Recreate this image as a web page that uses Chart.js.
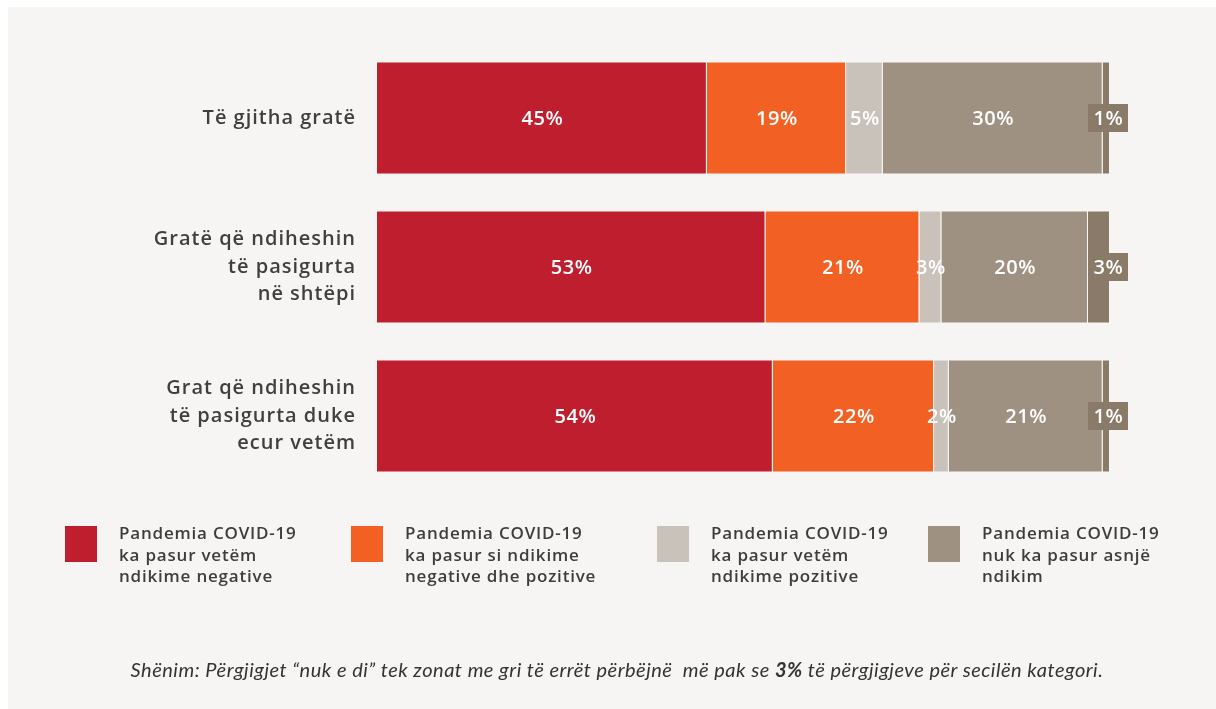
<!DOCTYPE html>
<html>
<head>
<meta charset="utf-8">
<script src="https://cdn.jsdelivr.net/npm/chart.js@4.4.1/dist/chart.umd.min.js"></script>
<style>
  html, body { margin: 0; padding: 0; background: #fff; }
  #panel { position: absolute; left: 8px; top: 7px; width: 1208px; height: 702px; background: #f6f5f3; }
  #wrap { position: absolute; left: 0; top: 0; width: 1216px; height: 709px; }
  .leg { position: absolute; top: 522px; font-family: "Open Sans", sans-serif; font-weight: 600; font-size: 17px; letter-spacing: 0.8px; line-height: 21.5px; color: #3d3d3d; }
  .leg .box { position: absolute; left: 0; top: 4px; width: 32px; height: 36px; }
  .leg .txt { position: absolute; left: 54px; top: 0; white-space: nowrap; }
  #note { position: absolute; left: 0; width: 1234px; top: 657px; text-align: center; font-family: "Lato", sans-serif; font-style: italic; font-size: 20px; letter-spacing: 0.5px; color: #333; white-space: nowrap; }
</style>
</head>
<body>
<div id="panel"></div>
<div id="wrap"><canvas id="chart" width="1216" height="709"></canvas></div>
<div id="legend"></div>
<div id="note">Shënim: Përgjigjet “nuk e di” tek zonat me gri të errët përbëjnë&nbsp; më pak se <b>3%</b> të përgjigjeve për secilën kategori.</div>
<script>
const categories = [
  ['Të gjitha gratë'],
  ['Gratë që ndiheshin', 'të pasigurta', 'në shtëpi'],
  ['Grat që ndiheshin', 'të pasigurta duke', 'ecur vetëm']
];
const seriesNames = [
  ['Pandemia COVID-19', 'ka pasur vetëm', 'ndikime negative'],
  ['Pandemia COVID-19', 'ka pasur si ndikime', 'negative dhe pozitive'],
  ['Pandemia COVID-19', 'ka pasur vetëm', 'ndikime pozitive'],
  ['Pandemia COVID-19', 'nuk ka pasur asnjë', 'ndikim'],
  ['Nuk e di']
];
const colors = ['#be1e2d', '#f26123', '#c9c2bb', '#9e9182', '#8a7a68'];
const negativeOnly = [45, 53, 54];
const mixedImpact = [19, 21, 22];
const positiveOnly = [5, 3, 2];
const noImpact = [30, 20, 21];
const dontKnow = [1, 3, 1];
const legendX = [65, 351, 657, 928];

const seriesValues = [negativeOnly, mixedImpact, positiveOnly, noImpact, dontKnow];

// legend (first four series only)
const legendEl = document.getElementById('legend');
for (let i = 0; i < 4; i++) {
  const d = document.createElement('div');
  d.className = 'leg';
  d.style.left = legendX[i] + 'px';
  d.innerHTML = '<div class="box" style="background:' + colors[i] + '"></div><div class="txt">' + seriesNames[i].join('<br>') + '</div>';
  legendEl.appendChild(d);
}

const spacing = {
  id: 'spacing',
  beforeDraw(chart) { chart.ctx.letterSpacing = '1px'; }
};

const valueLabels = {
  id: 'valueLabels',
  afterDatasetsDraw(chart) {
    const ctx = chart.ctx;
    ctx.save();
    ctx.letterSpacing = '0.6px';
    ctx.font = '600 20px "Open Sans", sans-serif';
    ctx.textAlign = 'center';
    ctx.textBaseline = 'middle';
    chart.data.datasets.forEach((ds, di) => {
      const meta = chart.getDatasetMeta(di);
      meta.data.forEach((bar, i) => {
        const txt = ds.data[i] + '%';
        let cx = (bar.x + bar.base) / 2;
        if (di === chart.data.datasets.length - 1) {
          cx = bar.x - 2;
          ctx.fillStyle = colors[di];
          ctx.fillRect(cx - 20, bar.y - 14, 40, 28);
        }
        ctx.fillStyle = '#ffffff';
        ctx.fillText(txt, cx + 0.5, bar.y + 1);
      });
    });
    ctx.restore();
  }
};

new Chart(document.getElementById('chart'), {
  type: 'bar',
  data: {
    labels: categories,
    datasets: seriesValues.map((vals, i) => ({
      label: seriesNames[i].join(' '),
      data: vals,
      backgroundColor: colors[i],
      borderColor: 'rgba(255,255,255,0.35)',
      borderWidth: 1,
      barPercentage: 0.76,
      categoryPercentage: 1
    }))
  },
  options: {
    indexAxis: 'y',
    responsive: false,
    animation: false,
    layout: { padding: { left: 0, right: 106, top: 43.5, bottom: 218.5 } },
    plugins: { legend: { display: false }, tooltip: { enabled: false } },
    scales: {
      x: { stacked: true, min: 0, max: 100, display: false },
      y: {
        stacked: true,
        grid: { display: false, drawTicks: false },
        border: { display: false },
        afterFit: (s) => { s.width = 377; s.paddingTop = 0; s.paddingBottom = 0; },
        ticks: {
          padding: 21,
          color: '#3f3f3f',
          font: { family: '"Open Sans", sans-serif', size: 20, weight: '600', lineHeight: 1.37 }
        }
      }
    }
  },
  plugins: [spacing, valueLabels]
});
</script>
</body>
</html>
